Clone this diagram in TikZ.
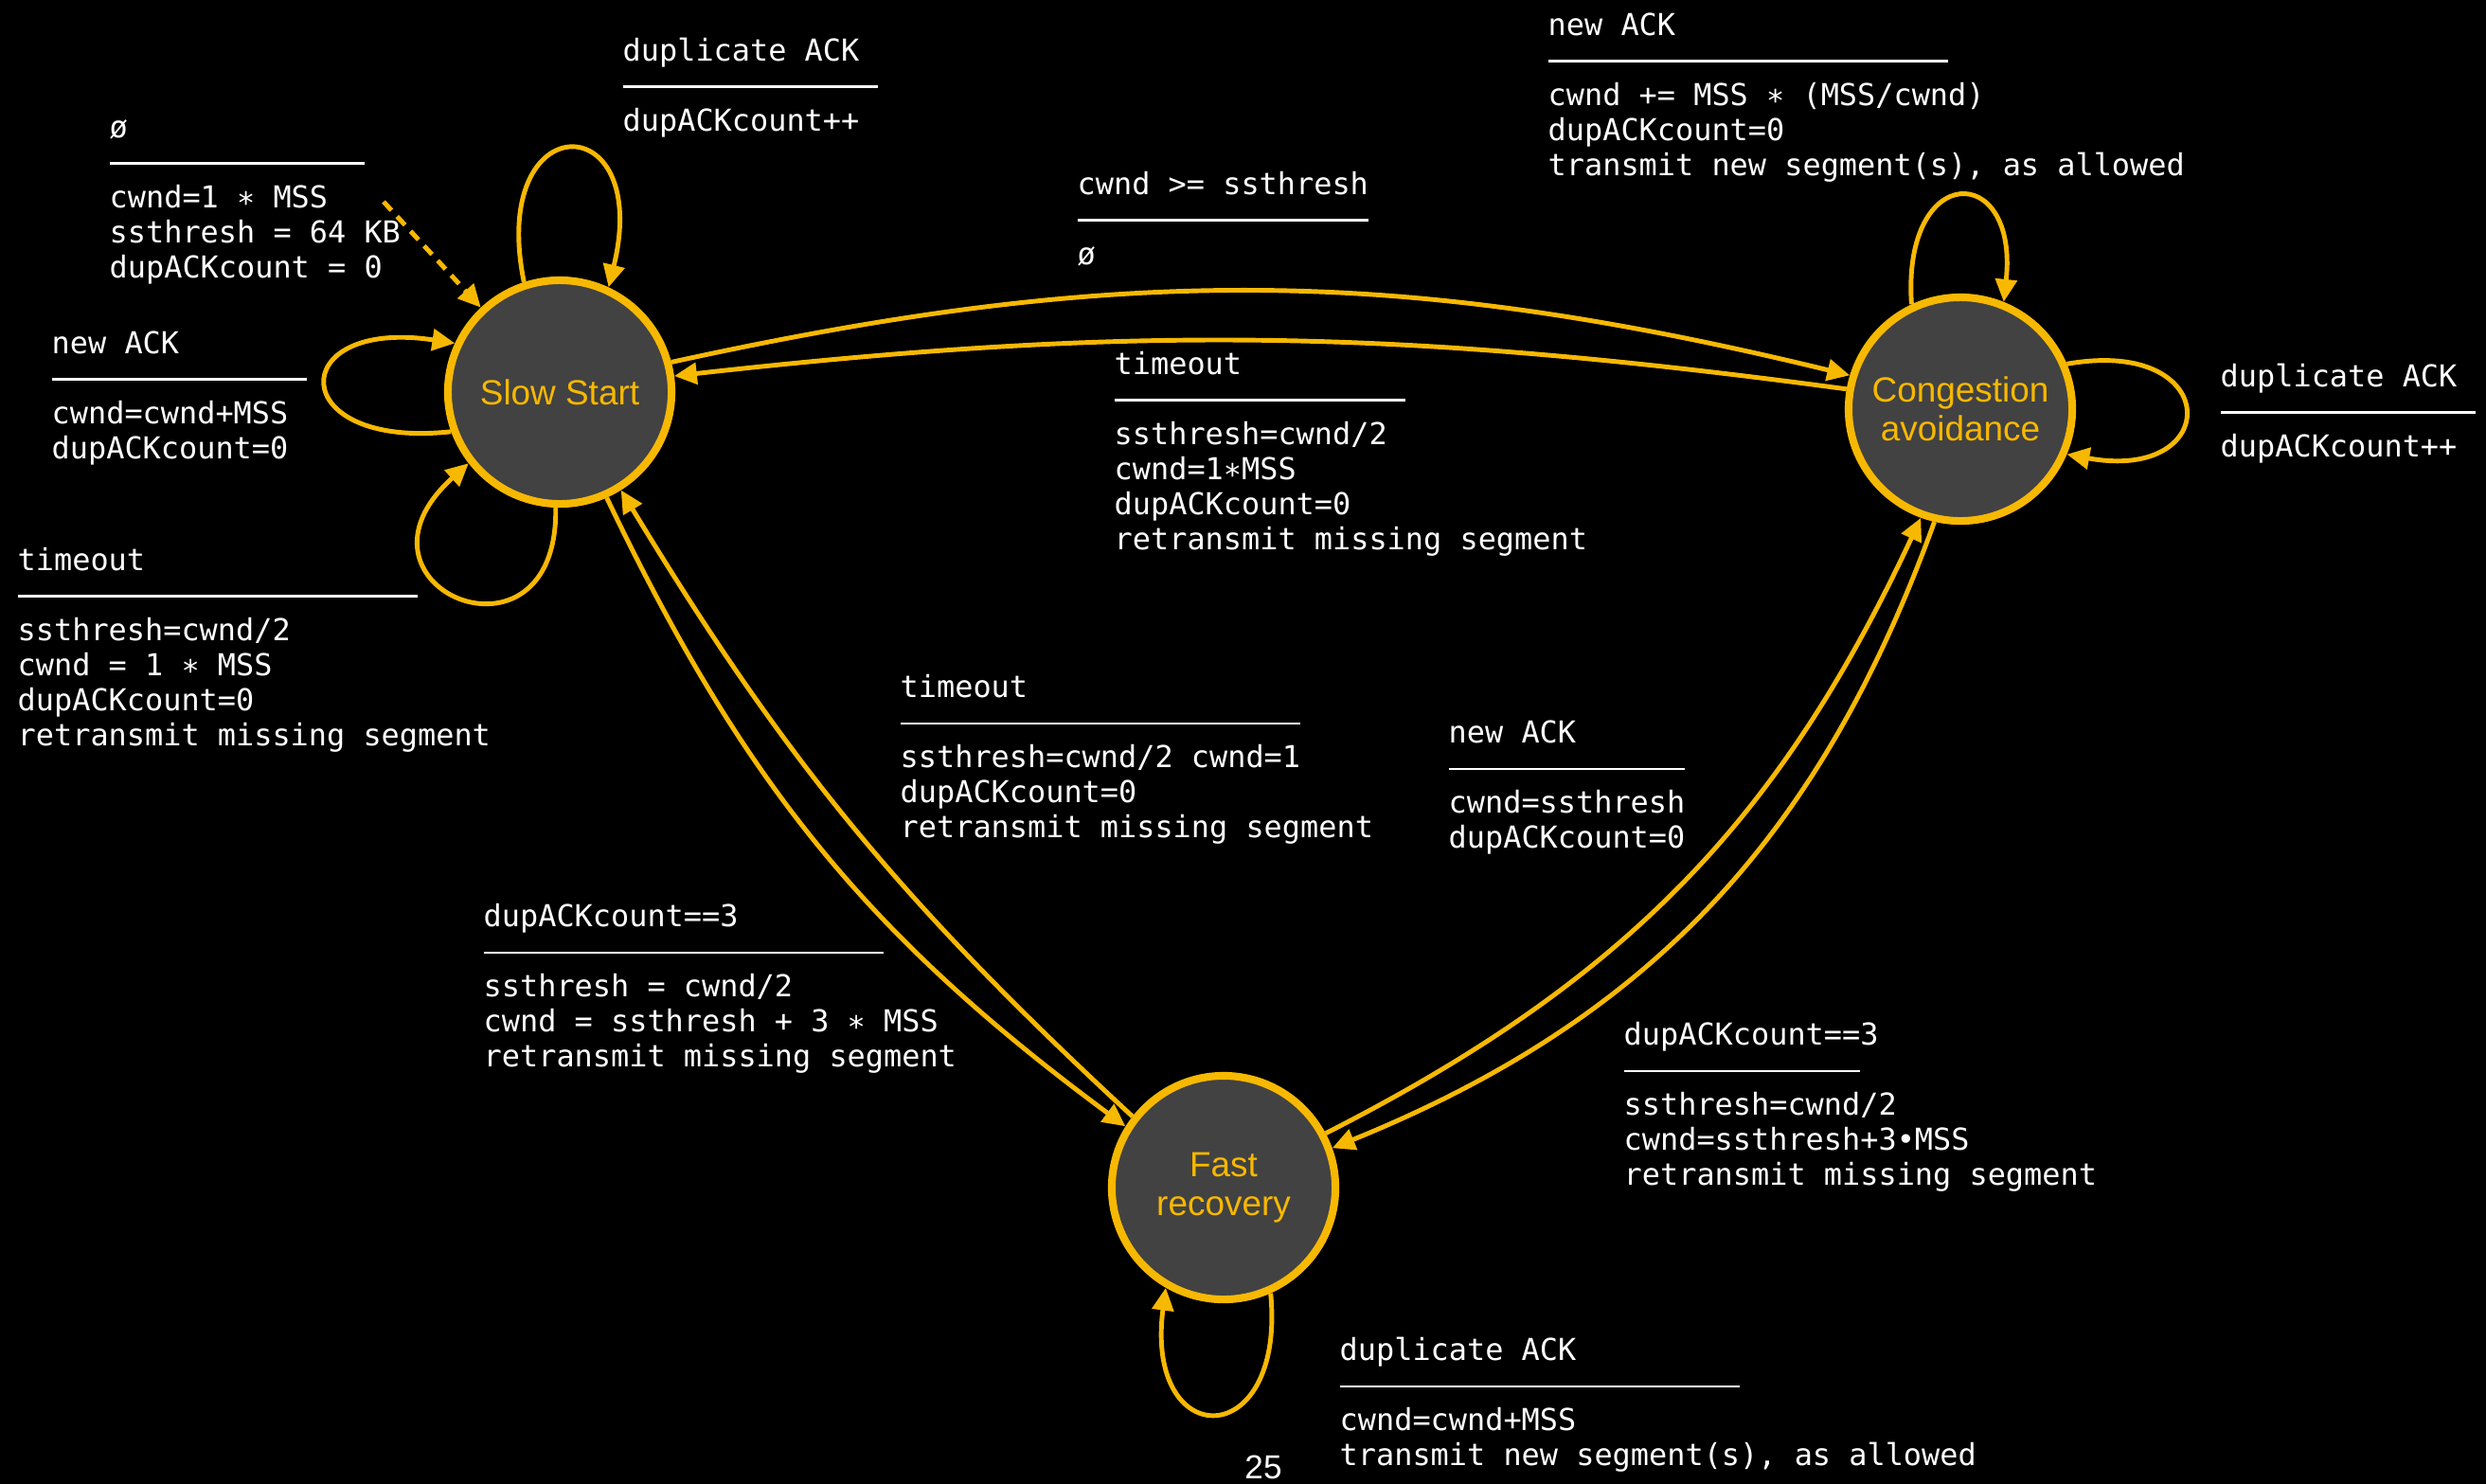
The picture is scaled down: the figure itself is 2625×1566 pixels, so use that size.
\documentclass[tikz,border=0pt]{standalone}
\usepackage{fontspec}
\usetikzlibrary{arrows.meta}
\newfontfamily\statefont{Liberation Sans}
\newfontfamily\codefont{DejaVu Sans Mono}
\definecolor{Amber}{RGB}{247,184,0}
\definecolor{StateGrey}{RGB}{66,66,66}
% rule between event and action, n monospace cells wide
\newcommand{\sepbar}[1]{\rule[2.4pt]{\dimexpr0.602em*#1\relax}{0.6pt}}
\newcommand{\trans}[3]{\begin{tabular}[t]{@{}l@{}}#1\\\sepbar{#2}\\#3\end{tabular}}

\begin{document}
\begin{tikzpicture}[x=0.01cm,y=-0.01cm,>={Triangle[length=6.8pt,width=6.4pt]},
  state/.style={circle,draw=Amber,fill=StateGrey,line width=2.3pt,
    minimum size=2.36cm,inner sep=0pt,text=Amber,align=center,
    font=\statefont\fontsize{10.5pt}{11.8pt}\selectfont},
  edgeline/.style={draw=Amber,line width=1.4pt,->},
  lbl/.style={anchor=base west,inner sep=0pt,text=white,
    font=\codefont\fontsize{9.07pt}{10.53pt}\selectfont}]
  \useasboundingbox (0,0) rectangle (2625,1566);
  \fill[black] (-10,-10) rectangle (2635,1576);

  % states
  \node[state] (SS) at (591,414) {Slow Start};
  \node[state] (CA) at (2070,432) {Congestion\\avoidance};
  \node[state] (FR) at (1292,1254) {Fast\\recovery};

  % transitions between states
  \draw[edgeline] (SS.15) to[bend left=13] (CA.163);
  \draw[edgeline] (CA.170) to[bend right=7] (SS.8);
  \draw[edgeline] (SS.-66) to[bend right=14] (FR.148);
  \draw[edgeline] (FR.142) to[bend left=8] (SS.-58);
  \draw[edgeline] (FR.28) to[bend right=19] (CA.-110);
  \draw[edgeline] (CA.-103) to[bend left=24] (FR.20);

  % self loops
  \draw[edgeline] (SS.108) .. controls (515,110) and (690,110) .. (SS.65);
  \draw[edgeline] (SS.200) .. controls (300,475) and (300,335) .. (SS.155);
  \draw[edgeline] (SS.-92) .. controls (590,720) and (350,620) .. (SS.218);
  \draw[edgeline] (CA.115) .. controls (2008,170) and (2132,170) .. (CA.68);
  \draw[edgeline] (CA.23) .. controls (2348,355) and (2348,510) .. (CA.-23);
  \draw[edgeline] (FR.-66) .. controls (1358,1535) and (1208,1535) .. (FR.-120);

  % initial transition
  \coordinate (init) at (405,213);
  \draw[edgeline,dash pattern=on 3.5pt off 2.5pt] (init) -- (SS.133);

  % labels
  \node[lbl] (lInit) at (115,145) {\trans{ø}{14}{cwnd=1 ∗ MSS\\ssthresh = 64 KB\\dupACKcount = 0}};
  \node[lbl] (lSSdup) at (657,64) {\trans{duplicate ACK}{14}{dupACKcount++}};
  \node[lbl] (lSSnew) at (54,373) {\trans{new ACK}{14}{cwnd=cwnd+MSS\\dupACKcount=0}};
  \node[lbl] (lSSto) at (18,602) {\trans{timeout}{22}{ssthresh=cwnd/2\\cwnd = 1 ∗ MSS\\dupACKcount=0\\retransmit missing segment}};
  \node[lbl] (lSSCA) at (1137,205) {\trans{cwnd >= ssthresh}{16}{ø}};
  \node[lbl] (lCAnew) at (1634,37) {\trans{new ACK}{22}{cwnd += MSS ∗ (MSS/cwnd)\\dupACKcount=0\\transmit new segment(s), as allowed}};
  \node[lbl] (lCASS) at (1176,395) {\trans{timeout}{16}{ssthresh=cwnd/2\\cwnd=1∗MSS\\dupACKcount=0\\retransmit missing segment}};
  \node[lbl] (lCAdup) at (2344,408) {\trans{duplicate ACK}{14}{dupACKcount++}};
  \node[lbl] (lFRSS) at (950,736) {\trans{timeout}{22}{ssthresh=cwnd/2 cwnd=1\\dupACKcount=0\\retransmit missing segment}};
  \node[lbl] (lFRCA) at (1529,784) {\trans{new ACK}{13}{cwnd=ssthresh\\dupACKcount=0}};
  \node[lbl] (lSSFR) at (510,978) {\trans{dupACKcount==3}{22}{ssthresh = cwnd/2\\cwnd = ssthresh + 3 ∗ MSS\\retransmit missing segment}};
  \node[lbl] (lCAFR) at (1714,1103) {\trans{dupACKcount==3}{13}{ssthresh=cwnd/2\\cwnd=ssthresh+3•MSS\\retransmit missing segment}};
  \node[lbl] (lFRdup) at (1414,1436) {\trans{duplicate ACK}{22}{cwnd=cwnd+MSS\\transmit new segment(s), as allowed}};

  \node[anchor=base,inner sep=0pt,text=white,
    font=\statefont\fontsize{10pt}{12pt}\selectfont] (pagenum) at (1334,1561) {25};
\end{tikzpicture}
\end{document}
